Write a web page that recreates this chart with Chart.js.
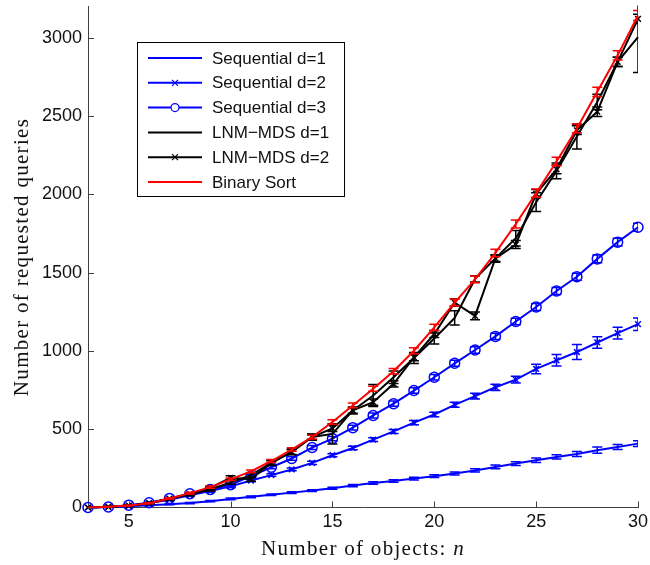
<!DOCTYPE html>
<html>
<head>
<meta charset="utf-8">
<script src="https://cdn.jsdelivr.net/npm/chart.js@4.4.0/dist/chart.umd.min.js"></script>
<style>
  html, body { margin: 0; padding: 0; background: #fff; }
  #wrap { width: 650px; height: 565px; }
</style>
</head>
<body>
<div id="wrap"><canvas id="chart"></canvas></div>
<script>
// x values: number of objects
const nObjects = [3, 4, 5, 6, 7, 8, 9, 10, 11, 12, 13, 14, 15, 16, 17, 18, 19, 20, 21, 22, 23, 24, 25, 26, 27, 28, 29, 30]
const xTickValues = [5, 10, 15, 20, 25, 30]
const yTickValues = [0, 500, 1000, 1500, 2000, 2500, 3000]

// mean number of requested queries
const seqD1 = [0, 3, 8, 14, 20, 28, 40, 55, 68, 82, 95, 108, 123, 140, 156, 170, 185, 200, 217, 237, 259, 281, 302, 323, 342, 366, 387, 408]
const seqD2 = [0, 4, 10, 28, 50, 78, 105, 135, 172, 207, 243, 285, 334, 380, 434, 486, 542, 594, 656, 711, 768, 817, 885, 940, 993, 1054, 1114, 1171]
const seqD3 = [0, 3, 15, 30, 58, 88, 115, 145, 200, 257, 313, 383, 440, 510, 588, 663, 747, 832, 921, 1006, 1093, 1188, 1281, 1383, 1474, 1588, 1695, 1790]
const lnmD1 = [0, 4, 12, 27, 55, 85, 115, 160, 207, 285, 355, 450, 470, 620, 715, 832, 955, 1080, 1211, 1460, 1591, 1720, 1950, 2150, 2370, 2590, 2846, 3004]
const lnmD2 = [0, 4, 12, 27, 56, 86, 125, 190, 180, 285, 355, 450, 505, 620, 673, 790, 959, 1108, 1309, 1224, 1591, 1680, 2005, 2160, 2410, 2528, 2846, 3121]
const binarySort = [0, 5, 12, 27, 58, 92, 130, 180, 231, 297, 370, 450, 546, 652, 758, 870, 1001, 1150, 1309, 1457, 1626, 1811, 2008, 2210, 2421, 2655, 2888, 3142]

// error bar half-lengths
const errSeqD1 = [0, 1, 2, 3, 3, 4, 4, 5, 5, 5, 6, 6, 7, 7, 8, 8, 9, 9, 10, 10, 12, 12, 14, 14, 16, 20, 16, 18]
const errSeqD2 = [0, 2, 3, 4, 5, 6, 6, 7, 8, 8, 9, 10, 10, 11, 12, 13, 14, 15, 16, 18, 20, 22, 30, 37, 48, 37, 37, 40]
const errSeqD3 = [0, 2, 3, 4, 5, 6, 7, 8, 9, 10, 11, 13, 14, 15, 16, 17, 18, 18, 19, 20, 20, 21, 22, 22, 23, 24, 25, 26]
const errLnmD1 = [0, 2, 3, 4, 6, 8, 10, 12, 14, 16, 18, 20, 65, 22, 70, 40, 35, 35, 45, 20, 20, 50, 60, 50, 80, 50, 30, 225]
const errLnmD2 = [0, 2, 3, 4, 6, 8, 10, 12, 12, 14, 16, 18, 20, 18, 20, 20, 22, 22, 24, 24, 24, 26, 26, 28, 28, 30, 30, 30]
const errBinary = [0, 1, 2, 3, 4, 6, 7, 8, 9, 10, 11, 12, 14, 15, 16, 18, 19, 20, 22, 22, 24, 25, 26, 27, 28, 30, 30, 32]

const BLUE = "#0000ff"
const BLACK = "#000000"
const RED = "#ff0000"
const AXIS = "#404040"

const toPoints = vals => vals.map((v, i) => ({ x: nObjects[i], y: v }))

function series(label, vals, errs, color, marker, order) {
  return {
    label: label,
    data: toPoints(vals),
    errors: errs,
    borderColor: color,
    backgroundColor: color,
    borderWidth: 2,
    pointStyle: marker || "circle",
    pointRadius: marker ? (marker === "circle" ? 5 : 4) : 0,
    pointHoverRadius: 0,
    pointBorderColor: color,
    pointBackgroundColor: "rgba(0,0,0,0)",
    pointBorderWidth: 1.5,
    tension: 0,
    clip: 8,
    order: order,
    marker: marker
  }
}

// error bars drawn right after each dataset, so z-order matches the lines
const errorBars = {
  id: "errorBars",
  afterDatasetDraw(chart, args) {
    const ds = chart.data.datasets[args.index]
    if (!ds.errors) return
    const { ctx, chartArea, scales: { x, y } } = chart
    ctx.save()
    ctx.beginPath()
    ctx.rect(chartArea.left, chartArea.top - 1, chartArea.right - chartArea.left, chartArea.bottom - chartArea.top + 2)
    ctx.clip()
    ctx.strokeStyle = ds.borderColor
    ctx.lineWidth = 1.5
    ds.data.forEach((p, i) => {
      const e = ds.errors[i]
      if (!e) return
      const px = x.getPixelForValue(p.x)
      const top = y.getPixelForValue(p.y + e)
      const bot = y.getPixelForValue(p.y - e)
      ctx.beginPath()
      ctx.moveTo(px, top); ctx.lineTo(px, bot)
      ctx.moveTo(px - 5, top); ctx.lineTo(px + 5, top)
      ctx.moveTo(px - 5, bot); ctx.lineTo(px + 5, bot)
      ctx.stroke()
    })
    ctx.restore()
  }
}

// inward tick marks, axis titles and the boxed legend (MATLAB look)
const decorations = {
  id: "decorations",
  afterDraw(chart) {
    const { ctx, chartArea, scales: { x, y } } = chart
    ctx.save()
    ctx.strokeStyle = AXIS
    ctx.lineWidth = 1
    ctx.beginPath()
    xTickValues.forEach(v => {
      const px = Math.round(x.getPixelForValue(v)) + 0.5
      ctx.moveTo(px, chartArea.bottom); ctx.lineTo(px, chartArea.bottom - 6)
    })
    yTickValues.forEach(v => {
      const py = Math.round(y.getPixelForValue(v)) + 0.5
      ctx.moveTo(chartArea.left, py); ctx.lineTo(chartArea.left + 6, py)
    })
    ctx.stroke()

    // x title with italic n
    ctx.fillStyle = "#111"
    ctx.textBaseline = "alphabetic"
    ctx.letterSpacing = "1.3px"
    const base = "Number of objects: "
    ctx.font = "21px 'Liberation Serif'"
    const w1 = ctx.measureText(base).width
    ctx.font = "italic 21px 'Liberation Serif'"
    const w2 = ctx.measureText("n").width
    const cx = (chartArea.left + chartArea.right) / 2
    let sx = cx - (w1 + w2) / 2
    ctx.font = "21px 'Liberation Serif'"
    ctx.textAlign = "left"
    ctx.fillText(base, sx, 555)
    ctx.font = "italic 21px 'Liberation Serif'"
    ctx.fillText("n", sx + w1, 555)

    // y title
    ctx.save()
    ctx.translate(28, (chartArea.top + chartArea.bottom) / 2)
    ctx.rotate(-Math.PI / 2)
    ctx.textAlign = "center"
    ctx.font = "21px 'Liberation Serif'"
    ctx.fillText("Number of requested queries", 0, 0)
    ctx.restore()
    ctx.letterSpacing = "0px"

    // legend
    const lx = 137.5, ly = 42.5, lw = 207, lh = 154
    ctx.fillStyle = "#fff"
    ctx.fillRect(lx, ly, lw, lh)
    ctx.strokeStyle = "#000"
    ctx.lineWidth = 1
    ctx.strokeRect(lx, ly, lw, lh)
    chart.data.datasets.forEach((ds, i) => {
      const ry = 58 + i * 24.8
      ctx.strokeStyle = ds.borderColor
      ctx.lineWidth = 2
      ctx.beginPath()
      ctx.moveTo(148, ry); ctx.lineTo(202, ry)
      ctx.stroke()
      ctx.lineWidth = 1.2
      if (ds.marker === "circle") {
        ctx.beginPath()
        ctx.arc(175, ry, 4, 0, Math.PI * 2)
        ctx.fillStyle = "#fff"
        ctx.fill()
        ctx.stroke()
      } else if (ds.marker === "crossRot") {
        ctx.beginPath()
        ctx.moveTo(172, ry - 3); ctx.lineTo(178, ry + 3)
        ctx.moveTo(172, ry + 3); ctx.lineTo(178, ry - 3)
        ctx.stroke()
      }
      ctx.fillStyle = "#111"
      ctx.font = "17px 'Liberation Sans'"
      ctx.textAlign = "left"
      ctx.textBaseline = "middle"
      ctx.fillText(ds.label, 212, ry + 1)
    })
    ctx.restore()
  }
}

new Chart(document.getElementById("chart"), {
  type: "line",
  data: {
    datasets: [
      series("Sequential d=1", seqD1, errSeqD1, BLUE, null, 6),
      series("Sequential d=2", seqD2, errSeqD2, BLUE, "crossRot", 5),
      series("Sequential d=3", seqD3, errSeqD3, BLUE, "circle", 4),
      series("LNM\u2212MDS d=1", lnmD1, errLnmD1, BLACK, null, 3),
      series("LNM\u2212MDS d=2", lnmD2, errLnmD2, BLACK, "crossRot", 2),
      series("Binary Sort", binarySort, errBinary, RED, null, 1)
    ]
  },
  plugins: [errorBars, decorations],
  options: {
    responsive: true,
    maintainAspectRatio: false,
    animation: false,
    layout: { padding: { left: 0, right: 12, top: 4, bottom: 0 } },
    plugins: {
      legend: { display: false },
      tooltip: { enabled: false }
    },
    scales: {
      x: {
        type: "linear",
        min: 3,
        max: 30,
        afterBuildTicks: axis => { axis.ticks = xTickValues.map(v => ({ value: v })) },
        afterFit: axis => { axis.height = 57.5; axis.paddingLeft = 0; axis.paddingRight = 0 },
        grid: { drawOnChartArea: false, drawTicks: false },
        border: { color: AXIS, width: 1 },
        ticks: {
          color: "#111",
          padding: 4,
          maxRotation: 0,
          callback: v => String(v),
          font: { family: "'Liberation Sans', Arial, sans-serif", size: 18 }
        }
      },
      y: {
        min: 0,
        max: 3200,
        afterBuildTicks: axis => { axis.ticks = yTickValues.map(v => ({ value: v })) },
        afterFit: axis => { axis.width = 88; axis.paddingTop = 0; axis.paddingBottom = 0 },
        grid: { drawOnChartArea: false, drawTicks: false },
        border: { color: AXIS, width: 1 },
        ticks: {
          color: "#111",
          padding: 6,
          callback: v => String(v),
          font: { family: "'Liberation Sans', Arial, sans-serif", size: 18 }
        }
      }
    }
  }
})
</script>
</body>
</html>
